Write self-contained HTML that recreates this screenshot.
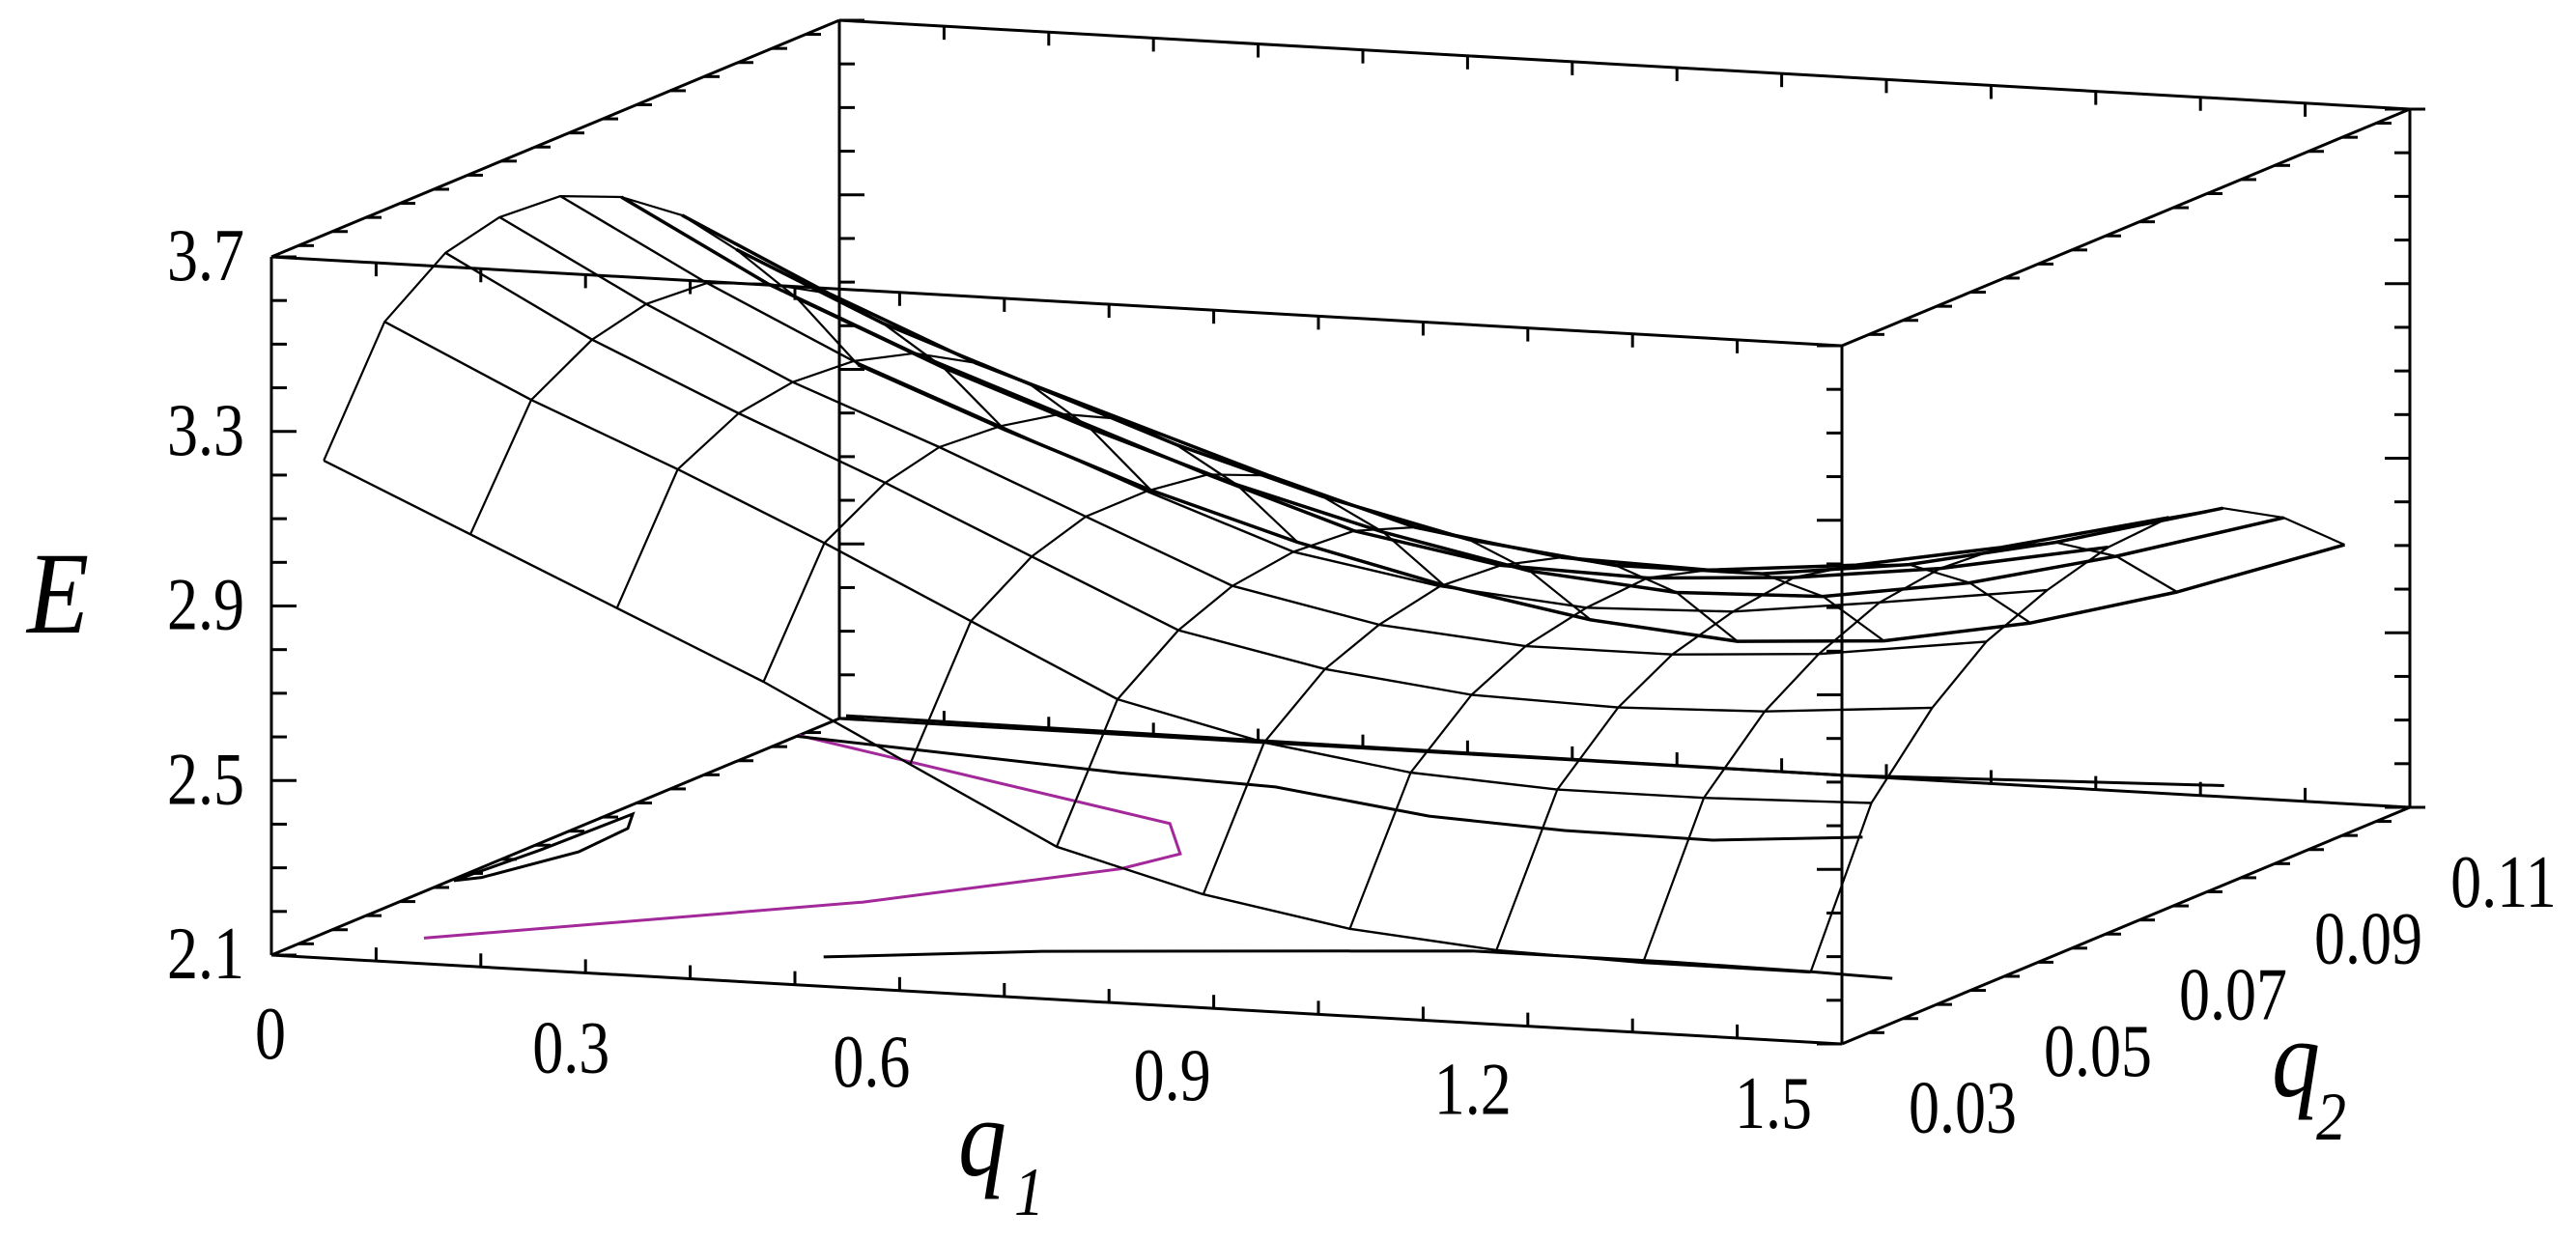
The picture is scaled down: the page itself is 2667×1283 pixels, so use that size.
<!DOCTYPE html>
<html><head><meta charset="utf-8">
<style>
html,body{margin:0;padding:0;background:#fff;}
svg{display:block;}
text{font-family:"Liberation Serif",serif;fill:#000;}
</style></head>
<body>
<svg id="chart" width="2667" height="1283" viewBox="0 0 2667 1283" xmlns="http://www.w3.org/2000/svg">
<rect width="2667" height="1283" fill="#fff"/>
<g id="box"></g>
<g id="floor"></g>
<g id="surface"></g>
<g id="labels">
  <text transform="translate(28,655) scale(1,1.15)" font-size="105" font-style="italic">E</text>
  <text transform="translate(992,1217) scale(1,1.15)" font-size="100" font-style="italic">q</text>
  <text transform="translate(1050,1258) scale(1,1.15)" font-size="62" font-style="italic">1</text>
  <text transform="translate(2352,1135) scale(1,1.15)" font-size="100" font-style="italic">q</text>
  <text transform="translate(2398,1180) scale(1,1.15)" font-size="62" font-style="italic">2</text>
</g>
</svg>
<script>
// ---- data ----
const q1Values = [0.05, 0.19, 0.33, 0.47, 0.61, 0.75, 0.89, 1.03, 1.17, 1.31, 1.47];
const q2Values = [0.026, 0.035, 0.044, 0.052, 0.061, 0.070, 0.079, 0.087, 0.096, 0.105];
const energyRow0 = [3.24, 3.09, 2.94, 2.79, 2.62, 2.45, 2.36, 2.30, 2.27, 2.26, 2.26];
const energyRow1 = [3.50, 3.34, 3.20, 3.05, 2.89, 2.73, 2.65, 2.60, 2.58, 2.58, 2.59];
const energyRow2 = [3.60, 3.42, 3.27, 3.13, 2.98, 2.83, 2.76, 2.72, 2.71, 2.72, 2.75];
const energyRow3 = [3.63, 3.45, 3.29, 3.16, 3.02, 2.88, 2.81, 2.78, 2.78, 2.80, 2.85];
const energyRow4 = [3.62, 3.44, 3.28, 3.15, 3.02, 2.90, 2.84, 2.81, 2.82, 2.86, 2.91];
const energyRow5 = [3.56, 3.38, 3.24, 3.12, 3.00, 2.89, 2.83, 2.82, 2.84, 2.88, 2.95];
const energyRow6 = [3.46, 3.30, 3.16, 3.05, 2.94, 2.84, 2.79, 2.78, 2.81, 2.87, 2.96];
const energyRow7 = [3.33, 3.18, 3.06, 2.94, 2.84, 2.76, 2.72, 2.72, 2.76, 2.83, 2.93];
const energyRow8 = [3.16, 3.02, 2.90, 2.79, 2.70, 2.63, 2.60, 2.61, 2.66, 2.74, 2.85];
const energyRow9 = [2.95, 2.82, 2.70, 2.60, 2.52, 2.46, 2.43, 2.45, 2.51, 2.60, 2.73];
const energyRows = [energyRow0, energyRow1, energyRow2, energyRow3, energyRow4, energyRow5, energyRow6, energyRow7, energyRow8, energyRow9];

const eTicks = ["3.7", "3.3", "2.9", "2.5", "2.1"];
const eTickValues = [3.7, 3.3, 2.9, 2.5, 2.1];
const q1Ticks = ["0", "0.3", "0.6", "0.9", "1.2", "1.5"];
const q1TickValues = [0, 0.3, 0.6, 0.9, 1.2, 1.5];
const q2Ticks = ["0.03", "0.05", "0.07", "0.09", "0.11"];
const q2TickValues = [0.03, 0.05, 0.07, 0.09, 0.11];

// floor contours (q1, q2) on E = 2.1 plane
const magentaQ1 = [0.0, 0.49, 0.56, 0.54, 0.39, 0.094];
const magentaQ2 = [0.104, 0.083, 0.0737, 0.068, 0.053, 0.034];
const loopQ1 = [0.003, 0.014, 0.019, 0.044, 0.05, 0.02, 0.003];
const loopQ2 = [0.0525, 0.0636, 0.0765, 0.0719, 0.0637, 0.054, 0.0525];
const frontLineQ1 = [0.468, 0.64, 1.0, 1.19, 1.33, 1.41];
const frontLineQ2 = [0.0352, 0.0408, 0.0485, 0.0486, 0.048, 0.0474];
const backLineQ1 = [0.0, 0.345, 0.505, 0.693, 0.836, 0.98, 1.10];
const backLineQ2 = [0.1037, 0.098, 0.0963, 0.0899, 0.0878, 0.0874, 0.091];
const rearLineQ1 = [0.0, 0.6, 0.96, 1.3];
const rearLineQ2 = [0.111, 0.1103, 0.110, 0.1135];

// ---- axis / projection ----
const Q1MIN = 0, Q1MAX = 1.5, Q2MIN = 0.026, Q2MAX = 0.11, EMIN = 2.1, EMAX = 3.7;
function proj(q1, q2, e) {
  const a = (q1 - Q1MIN) / (Q1MAX - Q1MIN);
  const b = (q2 - Q2MIN) / (Q2MAX - Q2MIN);
  const c = (e - EMIN) / (EMAX - EMIN);
  return [281 + 1626 * a + 588 * b, 989 + 92 * a - 245 * b - 723 * c];
}
const NS = "http://www.w3.org/2000/svg";
function mk(tag, parent, attrs) {
  const el = document.createElementNS(NS, tag);
  for (const k in attrs) el.setAttribute(k, attrs[k]);
  parent.appendChild(el);
  return el;
}
function pts(list) { return list.map(p => p[0].toFixed(1) + "," + p[1].toFixed(1)).join(" "); }

// ---- box ----
const box = document.getElementById("box");
const C = {
  flb: proj(Q1MIN, Q2MIN, EMIN), frb: proj(Q1MAX, Q2MIN, EMIN),
  blb: proj(Q1MIN, Q2MAX, EMIN), brb: proj(Q1MAX, Q2MAX, EMIN),
  flt: proj(Q1MIN, Q2MIN, EMAX), frt: proj(Q1MAX, Q2MIN, EMAX),
  blt: proj(Q1MIN, Q2MAX, EMAX), brt: proj(Q1MAX, Q2MAX, EMAX)
};
const edges = [["flb","frb"],["frb","frt"],["frt","flt"],["flt","flb"],["blb","blt"],["flt","blt"],["blt","brt"],["brt","frt"],["brt","brb"],["brb","frb"],["flb","blb"],["blb","brb"]];
edges.forEach(e => {
  const ln = mk("line", box, {x1:C[e[0]][0], y1:C[e[0]][1], x2:C[e[1]][0], y2:C[e[1]][1], stroke:"#000", "stroke-width":3});
  
  
});
[[Q1MIN,Q2MIN,1],[Q1MIN,Q2MAX,1],[Q1MAX,Q2MIN,-1],[Q1MAX,Q2MAX,-1]].forEach(v => {
  for (let k = 0; k <= 16; k++) {
    const e = EMIN + k * 0.1;
    const p = proj(v[0], v[1], e);
    const len = (k % 4 === 0) ? 26 : 16;
    const t = mk("line", box, {x1:p[0], y1:p[1], x2:p[0] + v[2]*len, y2:p[1], stroke:"#000", "stroke-width":3});
    
    
  }
});
[[Q2MIN,EMIN,-1],[Q2MAX,EMIN,-1],[Q2MIN,EMAX,1],[Q2MAX,EMAX,1]].forEach(v => {
  for (let k = 0; k <= 15; k++) {
    const p = proj(k * 0.1, v[0], v[1]);
    const t = mk("line", box, {x1:p[0], y1:p[1], x2:p[0], y2:p[1] + v[2]*14, stroke:"#000", "stroke-width":3});
    
    
  }
});
[[Q1MIN,EMIN],[Q1MAX,EMIN],[Q1MIN,EMAX],[Q1MAX,EMAX]].forEach(v => {
  for (let q = 0.03; q <= 0.1101; q += 0.005) {
    const p = proj(v[0], q, v[1]);
    const t = mk("line", box, {x1:p[0], y1:p[1], x2:p[0] + 16, y2:p[1], stroke:"#000", "stroke-width":3});
    
    
  }
});

// ---- floor lines ----
const floor = document.getElementById("floor");
function floorLine(q1s, q2s, color, name) {
  const list = q1s.map((q, i) => proj(q, q2s[i], EMIN));
  const pl = mk("polyline", floor, {points: pts(list), fill:"none", stroke:color, "stroke-width":3});
  
  
}
floorLine(magentaQ1, magentaQ2, "#a3289a", "magenta-contour");
floorLine(loopQ1, loopQ2, "#000", "small-contour-loop");
floorLine(frontLineQ1, frontLineQ2, "#000", "front-floor-line");
floorLine(backLineQ1, backLineQ2, "#000", "back-floor-line");
floorLine(rearLineQ1, rearLineQ2, "#000", "rear-floor-line");

// ---- surface wireframe ----
const surf = document.getElementById("surface");
energyRows.forEach((row, j) => {
  const list = row.map((e, i) => proj(q1Values[i], q2Values[j], e));
  const pl = mk("polyline", surf, {points: pts(list), fill:"none", stroke:"#000", "stroke-width": j >= 5 ? 3.5 : 2.4, "stroke-linejoin":"round"});
  
  
});
q1Values.forEach((q1, i) => {
  const list = q2Values.map((q2, j) => proj(q1, q2, energyRows[j][i]));
  const pl = mk("polyline", surf, {points: pts(list), fill:"none", stroke:"#000", "stroke-width":2.2, "stroke-linejoin":"round"});
  
  
});

// ---- tick labels ----
const labels = document.getElementById("labels");
eTickValues.forEach((v, i) => {
  const p = proj(Q1MIN, Q2MIN, v);
  const t = mk("text", labels, {transform: "translate(253," + (p[1] + 24) + ") scale(1,1.2)", "font-size": 64, "text-anchor": "end"});
  t.textContent = eTicks[i];
  
  
});
q1TickValues.forEach((v, i) => {
  const p = proj(v, Q2MIN, EMIN);
  const t = mk("text", labels, {transform: "translate(" + (p[0] - 1 - i * 14) + "," + (p[1] + 107 - i * 4) + ") scale(1,1.2)", "font-size": 64, "text-anchor": "middle"});
  t.textContent = q1Ticks[i];
  
  
});
q2TickValues.forEach((v, i) => {
  const p = proj(Q1MAX, v, EMIN);
  const t = mk("text", labels, {transform: "translate(" + (p[0] + 97) + "," + (p[1] + 103) + ") scale(1,1.2)", "font-size": 64, "text-anchor": "middle"});
  t.textContent = q2Ticks[i];
  
  
});
</script>
</body></html>
